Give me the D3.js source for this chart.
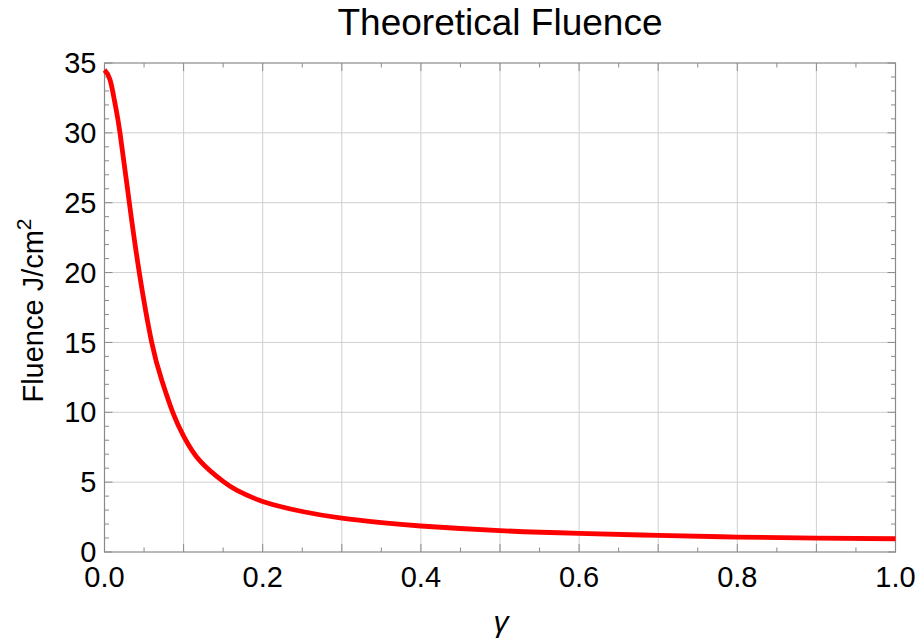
<!DOCTYPE html>
<html>
<head>
<meta charset="utf-8">
<script src="https://d3js.org/d3.v7.min.js"></script>
<style>
  body { margin: 0; background: #fff; }
  text { font-family: "Liberation Sans", Arial, sans-serif; fill: #000; }
</style>
</head>
<body>
<div id="chartHere"></div>
<script>
// gamma values and fluence
var gammaVals   = [0, 0.007, 0.0133, 0.0196, 0.0314, 0.044, 0.0597, 0.0724, 0.0863, 0.1, 0.121, 0.15, 0.167, 0.2, 0.25, 0.3, 0.35, 0.4, 0.5, 0.6, 0.7, 0.8, 0.9, 1.0];
var fluenceVals = [34.5, 33.8, 32.1, 30, 25, 20, 15, 12.3, 10, 8.3, 6.5, 5.05, 4.42, 3.62, 2.9, 2.42, 2.1, 1.86, 1.53, 1.33, 1.19, 1.07, 1.0, 0.95];

var xTicks = [0, 0.2, 0.4, 0.6, 0.8, 1.0];
var xGrid  = [0.1, 0.2, 0.3, 0.4, 0.5, 0.6, 0.7, 0.8, 0.9];
var xMinor = d3.range(0, 1.0001, 0.05);
var yTicks = [0, 5, 10, 15, 20, 25, 30, 35];
var yMinor = d3.range(0, 35.001, 1);

var dims = { width: 920, height: 642 };
var margin = { top: 63, right: 24.5, bottom: 90, left: 104.5 };

var svg = d3.select("#chartHere").append("svg")
    .attr("width", dims.width)
    .attr("height", dims.height);

var x = d3.scaleLinear().domain([0, 1]).range([margin.left, dims.width - margin.right]);
var y = d3.scaleLinear().domain([0, 35]).range([dims.height - margin.bottom, margin.top]);

var x0 = x.range()[0], x1 = x.range()[1];
var y0 = y.range()[0], y1 = y.range()[1];

// grid
svg.selectAll("line.vgrid").data(xGrid).enter().append("line")
    .attr("x1", d => x(d)).attr("x2", d => x(d))
    .attr("y1", y1).attr("y2", y0)
    .attr("stroke", "#cfcfcf").attr("stroke-width", 1);

svg.selectAll("line.hgrid").data(yTicks.slice(1, -1)).enter().append("line")
    .attr("x1", x0).attr("x2", x1)
    .attr("y1", d => y(d)).attr("y2", d => y(d))
    .attr("stroke", "#cfcfcf").attr("stroke-width", 1);

// frame ticks, pointing inward, on all four sides
var tickCol = "#8a8a8a";
function isMajorX(d) { return Math.abs(d * 10 - Math.round(d * 10)) < 1e-6; }
function isMajorY(d) { return d % 5 === 0; }

var tk = svg.append("g").attr("stroke", tickCol).attr("stroke-width", 1);
xMinor.forEach(function (d) {
  var len = isMajorX(d) ? 8 : 4.5;
  tk.append("line").attr("x1", x(d)).attr("x2", x(d)).attr("y1", y0).attr("y2", y0 - len);
  tk.append("line").attr("x1", x(d)).attr("x2", x(d)).attr("y1", y1).attr("y2", y1 + len);
});
yMinor.forEach(function (d) {
  var len = isMajorY(d) ? 8 : 4.5;
  tk.append("line").attr("x1", x0).attr("x2", x0 + len).attr("y1", y(d)).attr("y2", y(d));
  tk.append("line").attr("x1", x1).attr("x2", x1 - len).attr("y1", y(d)).attr("y2", y(d));
});

// frame
svg.append("rect")
    .attr("x", x0).attr("y", y1)
    .attr("width", x1 - x0).attr("height", y0 - y1)
    .attr("fill", "none").attr("stroke", tickCol).attr("stroke-width", 1.2);

// tick labels
svg.selectAll("text.xlab").data(xTicks).enter().append("text")
    .attr("x", d => x(d)).attr("y", 587)
    .attr("text-anchor", "middle")
    .attr("font-size", 29)
    .text(d => d3.format(".1f")(d));

svg.selectAll("text.ylab").data(yTicks).enter().append("text")
    .attr("x", x0 - 8).attr("y", d => y(d))
    .attr("dy", "0.35em")
    .attr("text-anchor", "end")
    .attr("font-size", 29)
    .text(d => d);

// curve
var pts = gammaVals.map((g, i) => [g, fluenceVals[i]]);
var line = d3.line()
    .x(d => x(d[0]))
    .y(d => y(d[1]))
    .curve(d3.curveNatural);

svg.append("path")
    .datum(pts)
    .attr("d", line)
    .attr("fill", "none")
    .attr("stroke", "#ff0000")
    .attr("stroke-width", 4.8)
    .attr("stroke-linejoin", "round");

// title and axis labels
svg.append("text")
    .attr("x", (x0 + x1) / 2).attr("y", 35)
    .attr("text-anchor", "middle")
    .attr("font-size", 37)
    .text("Theoretical Fluence");

svg.append("text")
    .attr("x", (x0 + x1) / 2 + 1).attr("y", 632)
    .attr("text-anchor", "middle")
    .attr("font-size", 30)
    .attr("font-style", "italic")
    .text("γ");

var yl = svg.append("text")
    .attr("transform", "translate(43," + ((y0 + y1) / 2 + 3) + ") rotate(-90)")
    .attr("text-anchor", "middle")
    .attr("font-size", 29);
yl.append("tspan").text("Fluence J/cm");
yl.append("tspan").attr("dy", "-0.55em").attr("font-size", 21).text("2");
</script>
</body>
</html>
